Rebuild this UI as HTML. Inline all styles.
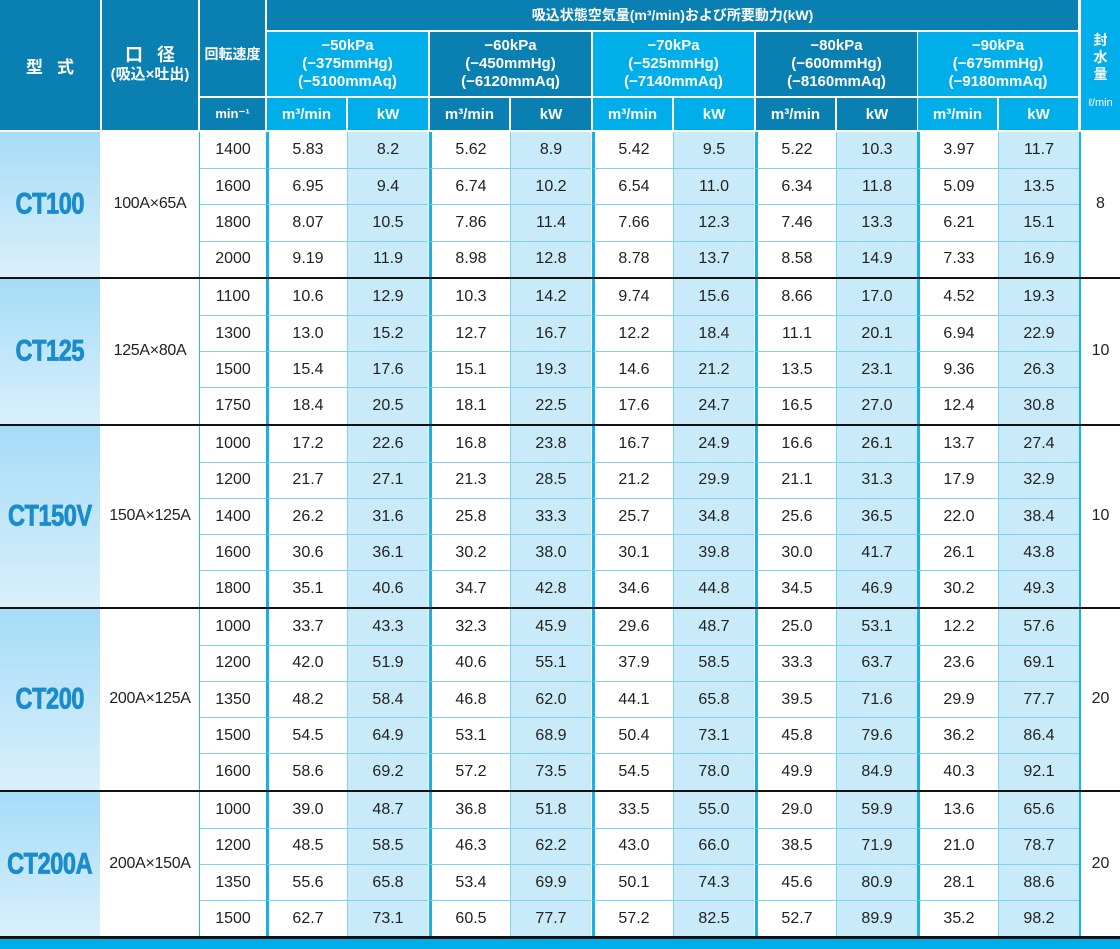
<!DOCTYPE html>
<html><head><meta charset="utf-8">
<style>
body{margin:0;width:1120px;height:949px;background:#fff;position:relative;overflow:hidden;font-family:"Liberation Sans","Noto Sans CJK JP",sans-serif;}
.a{position:absolute;box-sizing:border-box;display:flex;align-items:center;justify-content:center;text-align:center;}
.hd{background:#0a7fb2;color:#fff;font-weight:bold;}
.hl{background:#00aeea;color:#fff;font-weight:bold;}
.d{font-size:16px;color:#222;}
.m{display:inline-block;font-family:"Liberation Sans",sans-serif;font-weight:bold;font-size:28px;color:#1a8ccc;transform:scale(0.84,1.05);letter-spacing:-0.5px;-webkit-text-stroke:0.8px #1a8ccc;white-space:nowrap;}
</style></head><body>
<div class="a hd" style="left:0;top:0;width:100px;height:130px;font-size:17px;letter-spacing:14px;padding-left:14px">型式</div>
<div class="a hd" style="left:102px;top:0;width:96px;height:130px;font-size:15px;flex-direction:column;line-height:20px"><span style="font-size:18px;letter-spacing:14px;padding-left:14px">口径</span><span>(吸込×吐出)</span></div>
<div class="a hd" style="left:200px;top:0;width:65px;height:96px;font-size:14px;align-items:flex-start;padding-top:44px">回転速度</div>
<div class="a hd" style="left:200px;top:98px;width:65px;height:32px;font-size:13px">min⁻¹</div>
<div class="a hd" style="left:267px;top:0;width:811px;height:30px;font-size:14px">吸込状態空気量(m³/min)および所要動力(kW)</div>
<div class="a hl" style="left:1081px;top:0;width:39px;height:130px;flex-direction:column;font-size:14px;line-height:17px;justify-content:flex-start;padding-top:32px"><span>封</span><span>水</span><span>量</span><span style="font-weight:normal;font-size:11px;margin-top:12px">ℓ/min</span></div>
<div id="root"></div>
<div class="a" style="left:0;top:936px;width:1120px;height:3px;background:#111"></div>
<div class="a" style="left:0;top:939px;width:1120px;height:10px;background:#00aeea"></div>
<script>
const pressures=["−50kPa","−60kPa","−70kPa","−80kPa","−90kPa"];
const mmHg=["(−375mmHg)","(−450mmHg)","(−525mmHg)","(−600mmHg)","(−675mmHg)"];
const mmAq=["(−5100mmAq)","(−6120mmAq)","(−7140mmAq)","(−8160mmAq)","(−9180mmAq)"];
const models=["CT100","CT125","CT150V","CT200","CT200A"];
const bores=["100A×65A","125A×80A","150A×125A","200A×125A","200A×150A"];
const water=["8","10","10","20","20"];
const speeds=[[1400,1600,1800,2000],[1100,1300,1500,1750],[1000,1200,1400,1600,1800],[1000,1200,1350,1500,1600],[1000,1200,1350,1500]];
const values=[
[["5.83","8.2","5.62","8.9","5.42","9.5","5.22","10.3","3.97","11.7"],["6.95","9.4","6.74","10.2","6.54","11.0","6.34","11.8","5.09","13.5"],["8.07","10.5","7.86","11.4","7.66","12.3","7.46","13.3","6.21","15.1"],["9.19","11.9","8.98","12.8","8.78","13.7","8.58","14.9","7.33","16.9"]],
[["10.6","12.9","10.3","14.2","9.74","15.6","8.66","17.0","4.52","19.3"],["13.0","15.2","12.7","16.7","12.2","18.4","11.1","20.1","6.94","22.9"],["15.4","17.6","15.1","19.3","14.6","21.2","13.5","23.1","9.36","26.3"],["18.4","20.5","18.1","22.5","17.6","24.7","16.5","27.0","12.4","30.8"]],
[["17.2","22.6","16.8","23.8","16.7","24.9","16.6","26.1","13.7","27.4"],["21.7","27.1","21.3","28.5","21.2","29.9","21.1","31.3","17.9","32.9"],["26.2","31.6","25.8","33.3","25.7","34.8","25.6","36.5","22.0","38.4"],["30.6","36.1","30.2","38.0","30.1","39.8","30.0","41.7","26.1","43.8"],["35.1","40.6","34.7","42.8","34.6","44.8","34.5","46.9","30.2","49.3"]],
[["33.7","43.3","32.3","45.9","29.6","48.7","25.0","53.1","12.2","57.6"],["42.0","51.9","40.6","55.1","37.9","58.5","33.3","63.7","23.6","69.1"],["48.2","58.4","46.8","62.0","44.1","65.8","39.5","71.6","29.9","77.7"],["54.5","64.9","53.1","68.9","50.4","73.1","45.8","79.6","36.2","86.4"],["58.6","69.2","57.2","73.5","54.5","78.0","49.9","84.9","40.3","92.1"]],
[["39.0","48.7","36.8","51.8","33.5","55.0","29.0","59.9","13.6","65.6"],["48.5","58.5","46.3","62.2","43.0","66.0","38.5","71.9","21.0","78.7"],["55.6","65.8","53.4","69.9","50.1","74.3","45.6","80.9","28.1","88.6"],["62.7","73.1","60.5","77.7","57.2","82.5","52.7","89.9","35.2","98.2"]]];
const root=document.getElementById('root');
function mk(cls,x,y,w,h,txt,css){const e=document.createElement('div');e.className='a '+cls;e.style.cssText+=`left:${x}px;top:${y}px;width:${w}px;height:${h}px;`+(css||'');if(txt!==undefined)e.innerHTML=txt;root.appendChild(e);return e;}
const gx=[267,430,593,756,918];
pressures.forEach((p,i)=>{
 const c=i%2?'hd':'hl';
 let e=mk(c,gx[i],32,i==4?160:161,64,`${p}<br>${mmHg[i]}<br>${mmAq[i]}`,'font-size:15px;line-height:18px');
 
 
 e=mk(c,gx[i],98,79,32,'m³/min','font-size:15px');
 
 
 e=mk(c,gx[i]+81,98,i==4?79:80,32,'kW','font-size:15px');
 
 
});
const RH=36.2;let y=132;
models.forEach((m,b)=>{
 const n=speeds[b].length,H=n*RH;
 let e=mk('',0,y,100,H,`<span class="m">${m}</span>`,'background:linear-gradient(#a6dcf7,#d9f0fb)');
 
 
 e=mk('d',100,y,100,H,bores[b],'font-size:16px;letter-spacing:-0.3px');
 
 
 e=mk('d',1078,y,42,H,water[b],'border-left:3px solid #1ab0e8');
 
 
 for(let r=0;r<n;r++){
  const ry=y+r*RH,bt=r?'border-top:1px solid #7fd3f2;':'';
  e=mk('d',199,ry,67,RH,String(speeds[b][r]),bt+'border-left:1px solid #2ab8ec');
  
  
  values[b][r].forEach((v,k)=>{
   const g=Math.floor(k/2),kw=k%2;
   const x=kw?gx[g]+80:gx[g]-1;
   e=mk('d',x,ry,81,RH,v,bt+(kw?'background:#c8eaf9;border-left:1px solid #7fd3f2;':'border-left:3px solid #1ab0e8;'));
   
   
  });
 }
 y+=H;
 if(b<models.length-1){e=mk('',0,y,1120,2,undefined,'background:#111');
 
 y+=2;}
});
</script>
</body></html>
